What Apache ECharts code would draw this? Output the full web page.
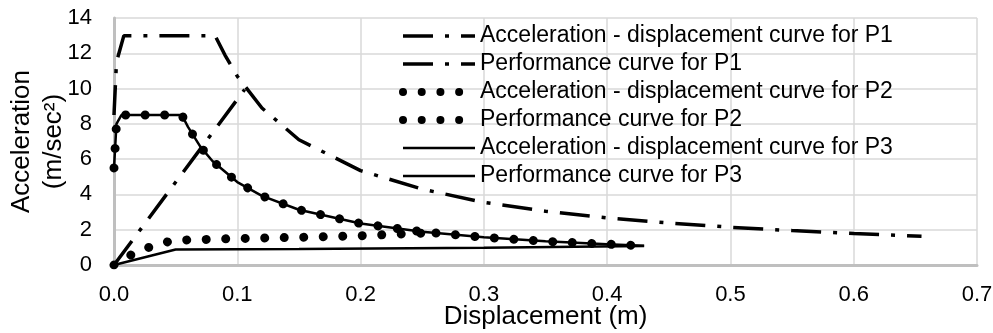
<!DOCTYPE html>
<html>
<head>
<meta charset="utf-8">
<script src="https://cdn.jsdelivr.net/npm/echarts@6/dist/echarts.min.js"></script>
<style>
html,body{margin:0;padding:0;background:#fff;}
#chart{width:993px;height:333px;}
</style>
</head>
<body>
<div id="chart"></div>
<script>
// ---- Data ----
const seriesNames = [
  'Acceleration - displacement curve for P1',
  'Performance curve for P1',
  'Acceleration - displacement curve for P2',
  'Performance curve for P2',
  'Acceleration - displacement curve for P3',
  'Performance curve for P3'
];

const p1AccDisp = [0, 0.002, 0.008, 0.082, 0.09, 0.1, 0.12, 0.15, 0.2, 0.25, 0.3, 0.35, 0.4, 0.45, 0.5, 0.55, 0.6, 0.655];
const p1AccVal  = [8.5, 11.5, 13.0, 13.0, 11.9, 10.7, 8.9, 7.1, 5.35, 4.3, 3.55, 3.05, 2.67, 2.38, 2.14, 1.95, 1.78, 1.63];

const p1PerfDisp = [0, 0.106];
const p1PerfVal  = [0, 9.95];

const p2AccDisp = [0, 0.002, 0.006, 0.055, 0.06, 0.07, 0.08, 0.1, 0.12, 0.15, 0.2, 0.25, 0.3, 0.35, 0.4, 0.43];
const p2AccVal  = [5.5, 8.0, 8.5, 8.5, 7.83, 6.71, 5.88, 4.7, 3.92, 3.13, 2.35, 1.88, 1.57, 1.34, 1.18, 1.09];

const p2PerfDisp = [0, 0.015, 0.03, 0.048, 0.1, 0.15, 0.2, 0.255];
const p2PerfVal  = [0, 0.62, 1.05, 1.4, 1.5, 1.57, 1.66, 1.82];

const p3AccDisp = [0, 0.002, 0.006, 0.055, 0.06, 0.07, 0.08, 0.1, 0.12, 0.15, 0.2, 0.25, 0.3, 0.35, 0.4, 0.43];
const p3AccVal  = [5.5, 8.0, 8.5, 8.5, 7.83, 6.71, 5.88, 4.7, 3.92, 3.13, 2.35, 1.88, 1.57, 1.34, 1.18, 1.09];

const p3PerfDisp = [0, 0.05, 0.15, 0.3, 0.43];
const p3PerfVal  = [0, 0.88, 0.91, 0.98, 1.07];

const xTicks = ['0.0', '0.1', '0.2', '0.3', '0.4', '0.5', '0.6', '0.7'];
const yTicks = ['0', '2', '4', '6', '8', '10', '12', '14'];

// ---- Build ----
function zip(xs, ys) { return xs.map((x, i) => [x, ys[i]]); }

const FONT = '"Liberation Sans", Arial, sans-serif';
const dashDot = { color: '#000', width: 3.5, type: [30, 12, 4, 12], cap: 'butt' };
const roundDots = { color: '#000', width: 9, type: [0.01, 19.5], cap: 'round' };
const legendDots = { color: '#000', width: 8, type: [0.01, 18.7], cap: 'round' };
const solid = { color: '#000', width: 2.5, type: 'solid' };
const styles = [dashDot, dashDot, roundDots, roundDots, solid, solid];
const legendStyles = [dashDot, dashDot, legendDots, legendDots, solid, solid];

function mk(i, data) {
  return {
    name: seriesNames[i], type: 'line', data: data, symbol: 'none', showSymbol: false,
    lineStyle: styles[i], itemStyle: { color: '#000' }, silent: true, animation: false
  };
}

const chart = echarts.init(document.getElementById('chart'), null, { renderer: 'canvas' });
chart.setOption({
  animation: false,
  backgroundColor: '#fff',
  textStyle: { fontFamily: FONT },
  grid: { left: 114, right: 16, top: 18, bottom: 68, containLabel: false, outerBoundsMode: 'none' },
  legend: {
    orient: 'vertical', left: 394, top: 19, padding: 5,
    itemWidth: 72, itemHeight: 14, itemGap: 4,
    itemStyle: { opacity: 0 },
    textStyle: { fontFamily: FONT, fontSize: 23, lineHeight: 24, color: '#000' },
    data: seriesNames.map((n, i) => ({ name: n, lineStyle: legendStyles[i] }))
  },
  xAxis: {
    type: 'value', min: 0, max: 0.7, interval: 0.1,
    name: 'Displacement (m)', nameLocation: 'middle', nameGap: 39, nameMoveOverlap: false,
    nameTextStyle: { fontFamily: FONT, fontSize: 26, color: '#000' },
    axisLine: { show: true, onZero: false, lineStyle: { color: '#bfbfbf', width: 3 } },
    axisTick: { show: false },
    axisLabel: { fontFamily: FONT, fontSize: 22, color: '#000', margin: 19,
      formatter: v => xTicks[Math.round(v * 10)] },
    splitLine: { show: true, lineStyle: { color: '#d9d9d9', width: 1.5 } }
  },
  yAxis: {
    type: 'value', min: 0, max: 14, interval: 2,
    name: 'Acceleration\n(m/sec²)', nameLocation: 'middle', nameGap: 44, nameRotate: 90, nameMoveOverlap: false,
    nameTextStyle: { fontFamily: FONT, fontSize: 26, lineHeight: 32, color: '#000' },
    axisLine: { show: true, lineStyle: { color: '#bfbfbf', width: 3 } },
    axisTick: { show: false },
    axisLabel: { fontFamily: FONT, fontSize: 22, color: '#000', margin: 22,
      formatter: v => yTicks[Math.round(v / 2)] },
    splitLine: { show: true, lineStyle: { color: '#d9d9d9', width: 1.5 } }
  },
  series: [
    mk(0, zip(p1AccDisp, p1AccVal)),
    mk(1, zip(p1PerfDisp, p1PerfVal)),
    mk(2, zip(p2AccDisp, p2AccVal)),
    mk(3, zip(p2PerfDisp, p2PerfVal)),
    mk(4, zip(p3AccDisp, p3AccVal)),
    mk(5, zip(p3PerfDisp, p3PerfVal))
  ]
});
</script>
</body>
</html>
